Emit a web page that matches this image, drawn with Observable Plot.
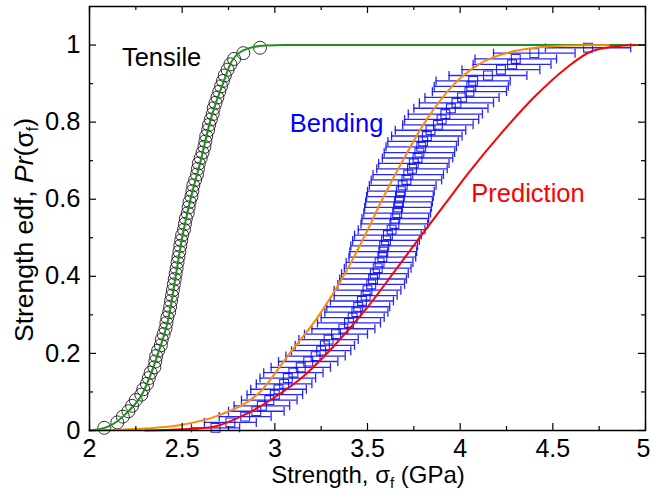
<!DOCTYPE html>
<html>
<head>
<meta charset="utf-8">
<script src="https://cdn.jsdelivr.net/npm/d3@7"></script>
<script src="https://cdn.jsdelivr.net/npm/@observablehq/plot@0.6"></script>
<style>
  body { margin: 0; background: #fff; }
  #chart svg { font-family: "Liberation Sans", Arial, sans-serif; }
</style>
</head>
<body>
<div id="chart"></div>
<script>
// Empirical distribution probabilities (shared rank positions)
const edfP = [0.007,0.021,0.036,0.05,0.064,0.079,0.093,0.107,0.121,0.136,0.15,0.164,0.179,0.193,0.207,0.221,0.236,0.25,0.264,0.279,0.293,0.307,0.321,0.336,0.35,0.364,0.379,0.393,0.407,0.421,0.436,0.45,0.464,0.479,0.493,0.507,0.521,0.536,0.55,0.564,0.579,0.593,0.607,0.621,0.636,0.65,0.664,0.679,0.693,0.707,0.721,0.736,0.75,0.764,0.779,0.793,0.807,0.821,0.836,0.85,0.864,0.879,0.893,0.907,0.921,0.936,0.95,0.964,0.979,0.993];

// Tensile strengths (GPa)
const tensileStrength = [2.08,2.15,2.18,2.21,2.23,2.25,2.28,2.29,2.31,2.32,2.33,2.35,2.355,2.36,2.37,2.385,2.39,2.40,2.41,2.415,2.42,2.43,2.435,2.44,2.445,2.45,2.455,2.46,2.465,2.47,2.475,2.48,2.485,2.49,2.495,2.50,2.51,2.515,2.52,2.53,2.535,2.54,2.55,2.555,2.56,2.57,2.58,2.585,2.59,2.60,2.61,2.62,2.625,2.63,2.64,2.645,2.655,2.665,2.67,2.68,2.69,2.70,2.71,2.72,2.73,2.745,2.76,2.78,2.83,2.92];

// Bending strengths (GPa) and their error half-widths
const bendingStrength = [2.68,2.76,2.84,2.90,2.93,2.97,3.00,3.02,3.05,3.07,3.10,3.14,3.18,3.22,3.25,3.27,3.29,3.33,3.37,3.40,3.42,3.44,3.45,3.47,3.49,3.50,3.52,3.53,3.54,3.555,3.565,3.58,3.585,3.59,3.60,3.61,3.63,3.645,3.65,3.66,3.665,3.67,3.675,3.68,3.69,3.71,3.72,3.74,3.75,3.77,3.78,3.79,3.80,3.82,3.84,3.88,3.90,3.92,3.95,3.98,4.01,4.05,4.06,4.07,4.15,4.22,4.28,4.30,4.40,4.69];
const bendingError = [0.13,0.14,0.14,0.15,0.15,0.15,0.15,0.15,0.15,0.15,0.16,0.16,0.16,0.16,0.16,0.16,0.16,0.17,0.17,0.17,0.17,0.17,0.17,0.17,0.17,0.18,0.18,0.18,0.18,0.18,0.18,0.18,0.18,0.18,0.18,0.18,0.18,0.18,0.18,0.18,0.18,0.18,0.18,0.18,0.18,0.19,0.19,0.19,0.19,0.19,0.19,0.19,0.19,0.19,0.19,0.19,0.20,0.20,0.20,0.20,0.20,0.20,0.20,0.20,0.21,0.21,0.21,0.22,0.22,0.23];

// Fitted tensile curve (green)
const tensileFitX = [2.0,2.1,2.2,2.29,2.37,2.43,2.465,2.5,2.545,2.6,2.65,2.72,2.77,2.85,2.95,3.05,5.0];
const tensileFitY = [0,0.01,0.045,0.1,0.2,0.3,0.4,0.5,0.6,0.7,0.8,0.9,0.96,0.99,0.999,1,1];

// Fitted bending curve (orange)
const bendingFitX = [2.0,2.3,2.5,2.7,2.92,3.08,3.24,3.37,3.48,3.58,3.69,3.81,3.97,4.1,4.3,4.55,4.8];
const bendingFitY = [0,0.005,0.015,0.04,0.1,0.2,0.3,0.4,0.5,0.6,0.7,0.8,0.9,0.95,0.985,0.998,1.0];

// Predicted bending curve (red)
const predictionX = [2.3,2.5,2.67,2.85,3.03,3.14,3.32,3.50,3.68,3.82,3.93,4.04,4.22,4.40,4.58,4.70,4.85,4.95];
const predictionY = [0,0.003,0.01,0.044,0.096,0.135,0.22,0.32,0.435,0.525,0.595,0.665,0.77,0.865,0.943,0.982,0.997,1.0];

// Axis ticks
const xTicks = [2,2.5,3,3.5,4,4.5,5];
const xMinorTicks = [2.25,2.75,3.25,3.75,4.25,4.75];
const yTicks = [0,0.2,0.4,0.6,0.8,1];
const yMinorTicks = [0.1,0.3,0.5,0.7,0.9];

const tensile = edfP.map((p, i) => ({x: tensileStrength[i], p}));
const bending = edfP.map((p, i) => ({x: bendingStrength[i], e: bendingError[i], p}));
const tensileFit = tensileFitX.map((x, i) => ({x, p: tensileFitY[i]}));
const bendingFit = bendingFitX.map((x, i) => ({x, p: bendingFitY[i]}));
const prediction = predictionX.map((x, i) => ({x, p: predictionY[i]}));

const W = 651, H = 495;
const mL = 89, mR = 6, mT = 6, mB = 65;
const iw = W - mL - mR, ih = H - mT - mB;
const majorLen = 7, minorLen = 4;
const FS = 25.5;
const TFS = 25;

const capSymbol = {
  draw(context, size) {
    const r = Math.sqrt(size / Math.PI);
    context.moveTo(0, -r);
    context.lineTo(0, r);
  }
};

const blue = "#0000ff";
const xLast = xTicks[xTicks.length - 1];

const plot = Plot.plot({
  width: W, height: H,
  marginLeft: mL, marginRight: mR, marginTop: mT, marginBottom: mB,
  style: {fontFamily: "'Liberation Sans', Arial, sans-serif", fontSize: FS + "px", background: "#fff", color: "#000"},
  x: {domain: [2, 5], label: null},
  y: {domain: [0, 1.1], label: null},
  marks: [
    // tensile data circles
    Plot.dot(tensile, {x: "x", y: "p", r: 6.5, stroke: "#111", strokeWidth: 1, fill: "none", strokeOpacity: 0.85}),
    // bending error bars
    Plot.ruleY(bending, {y: "p", x1: d => d.x - d.e, x2: d => d.x + d.e, stroke: blue, strokeWidth: 1.3, strokeOpacity: 0.85}),
    Plot.dot(bending, {x: d => d.x - d.e, y: "p", symbol: capSymbol, r: 4.5, stroke: blue, strokeWidth: 1.3, strokeOpacity: 0.85}),
    Plot.dot(bending, {x: d => d.x + d.e, y: "p", symbol: capSymbol, r: 4.5, stroke: blue, strokeWidth: 1.3, strokeOpacity: 0.85}),
    Plot.dot(bending, {x: "x", y: "p", symbol: "square", r: 5, stroke: blue, strokeWidth: 1.1, fill: "none", strokeOpacity: 0.85}),
    // curves
    Plot.line(tensileFit, {x: "x", y: "p", stroke: "#1f8f1f", strokeWidth: 2, curve: "monotone-x"}),
    Plot.line(bendingFit, {x: "x", y: "p", stroke: "#ff8c00", strokeWidth: 2, curve: "monotone-x"}),
    Plot.line(prediction, {x: "x", y: "p", stroke: "#ff0000", strokeWidth: 2, curve: "monotone-x"}),
    // inward ticks, all four sides
    Plot.ruleX(xTicks, {x: d => d, insetTop: ih - majorLen, stroke: "#000", strokeWidth: 1.2}),
    Plot.ruleX(xTicks, {x: d => d, insetBottom: ih - majorLen, stroke: "#000", strokeWidth: 1.2}),
    Plot.ruleX(xMinorTicks, {x: d => d, insetTop: ih - minorLen, stroke: "#000", strokeWidth: 1.2}),
    Plot.ruleX(xMinorTicks, {x: d => d, insetBottom: ih - minorLen, stroke: "#000", strokeWidth: 1.2}),
    Plot.ruleY(yTicks, {y: d => d, insetRight: iw - majorLen, stroke: "#000", strokeWidth: 1.2}),
    Plot.ruleY(yTicks, {y: d => d, insetLeft: iw - majorLen, stroke: "#000", strokeWidth: 1.2}),
    Plot.ruleY(yMinorTicks, {y: d => d, insetRight: iw - minorLen, stroke: "#000", strokeWidth: 1.2}),
    Plot.ruleY(yMinorTicks, {y: d => d, insetLeft: iw - minorLen, stroke: "#000", strokeWidth: 1.2}),
    Plot.frame({stroke: "#000", strokeWidth: 1.5}),
    // tick labels
    Plot.axisX({ticks: xTicks.filter(t => t !== xLast), tickSize: 0, tickPadding: 9, tickFormat: d => String(d), fontSize: TFS, label: null}),
    Plot.axisX({ticks: [xLast], tickSize: 0, tickPadding: 9, tickFormat: d => String(d), fontSize: TFS, label: null, dx: -2}),
    Plot.axisY({ticks: yTicks, tickSize: 0, tickPadding: 9, tickFormat: d => String(d), fontSize: FS, label: null}),
    // curve labels
    Plot.text(["Tensile"], {x: 2.389, y: 0.967, text: d => d, fill: "#000", fontSize: FS, textAnchor: "middle", lineAnchor: "middle"}),
    Plot.text(["Bending"], {x: 3.333, y: 0.796, text: d => d, fill: blue, fontSize: FS, textAnchor: "middle", lineAnchor: "middle"}),
    Plot.text(["Prediction"], {x: 4.366, y: 0.614, text: d => d, fill: "#ff0000", fontSize: FS, textAnchor: "middle", lineAnchor: "middle"})
  ]
});

const svg = d3.select(plot);
// x-axis title
const xt = svg.append("text")
  .attr("x", mL + iw / 2 + 1).attr("y", 483)
  .attr("text-anchor", "middle")
  .attr("font-size", 24).attr("fill", "#000");
xt.append("tspan").text("Strength, σ");
xt.append("tspan").attr("dy", 5).attr("font-size", 15).text("f");
xt.append("tspan").attr("dy", -5).text(" (GPa)");

// y-axis title
const yt = svg.append("text")
  .attr("transform", `translate(33,230) rotate(-90)`)
  .attr("text-anchor", "middle")
  .attr("font-size", 26.5).attr("fill", "#000");
yt.append("tspan").text("Strength edf, ");
yt.append("tspan").attr("font-style", "italic").text("Pr");
yt.append("tspan").text("(σ");
yt.append("tspan").attr("dy", 5).attr("font-size", 16).text("f");
yt.append("tspan").attr("dy", -5).text(")");

document.getElementById("chart").appendChild(plot);
</script>
</body>
</html>
